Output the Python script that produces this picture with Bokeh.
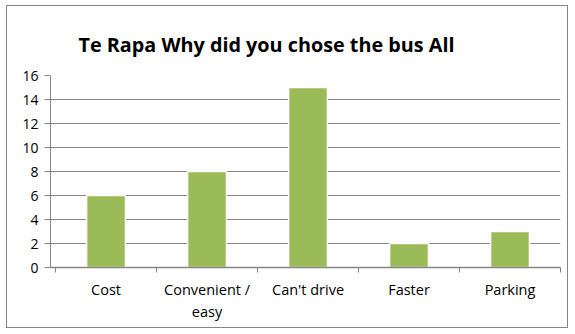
import numpy as np
from bokeh.plotting import figure
from bokeh.models import Range1d, FixedTicker, ColumnDataSource
from bokeh.embed import file_html
from bokeh.resources import INLINE

categories = ["Cost", "Convenient /\neasy", "Can't drive", "Faster", "Parking"]
values = [6, 8, 15, 2, 3]
y_ticks = [0, 2, 4, 6, 8, 10, 12, 14, 16]

FONT = "Open Sans"
GRAY = "#868686"

n = len(categories)
xpos = np.arange(n) + 0.5

src = ColumnDataSource(dict(x=xpos, top=values))

p = figure(width=562, height=323, output_backend="svg", toolbar_location=None,
           x_range=Range1d(-0.05, n), y_range=Range1d(0, 16),
           min_border_left=43, min_border_right=9, min_border_top=69, min_border_bottom=62,
           title="Te Rapa Why did you chose the bus All")
p.styles = {"border": f"1px solid {GRAY}", "margin-left": "6px", "margin-top": "5px"}
p.outline_line_color = None
p.background_fill_color = "white"
p.border_fill_color = "white"

p.title.text_font = FONT
p.title.text_font_size = "19.8px"
p.title.text_font_style = "bold"
p.title.text_color = "black"
p.title.align = "left"
p.title.vertical_align = "top"
p.title.standoff = 32
p.title.offset = 28

p.vbar(x="x", top="top", width=0.385, source=src, fill_color="#9BBB59",
       line_color="white", line_width=1.5)

# x axis: labels at category centers, ticks at category boundaries
p.xaxis.ticker = FixedTicker(ticks=list(xpos), minor_ticks=list(range(n + 1)))
p.xaxis.major_label_overrides = {float(x): c for x, c in zip(xpos, categories)}
p.xaxis.major_tick_line_color = None
p.xaxis.major_tick_out = 0
p.xaxis.minor_tick_out = 5
p.xaxis.minor_tick_in = 0
p.xaxis.minor_tick_line_color = GRAY
p.xaxis.axis_line_color = GRAY
p.xaxis.axis_line_width = 1.5
p.xaxis.major_label_standoff = 7
p.xaxis.major_label_text_font = FONT
p.xaxis.major_label_text_font_size = "14.5px"
p.xaxis.major_label_text_color = "black"

p.yaxis.ticker = FixedTicker(ticks=y_ticks)
p.yaxis.minor_tick_line_color = None
p.yaxis.major_tick_out = 6
p.yaxis.major_tick_in = 0
p.yaxis.major_tick_line_color = GRAY
p.yaxis.axis_line_color = GRAY
p.yaxis.major_label_standoff = 6
p.yaxis.major_label_text_font = FONT
p.yaxis.major_label_text_font_size = "14px"
p.yaxis.major_label_text_color = "black"

p.xgrid.grid_line_color = None
p.ygrid.grid_line_color = GRAY
p.ygrid.grid_line_width = 1

open("out.html", "w").write(file_html(p, INLINE))
